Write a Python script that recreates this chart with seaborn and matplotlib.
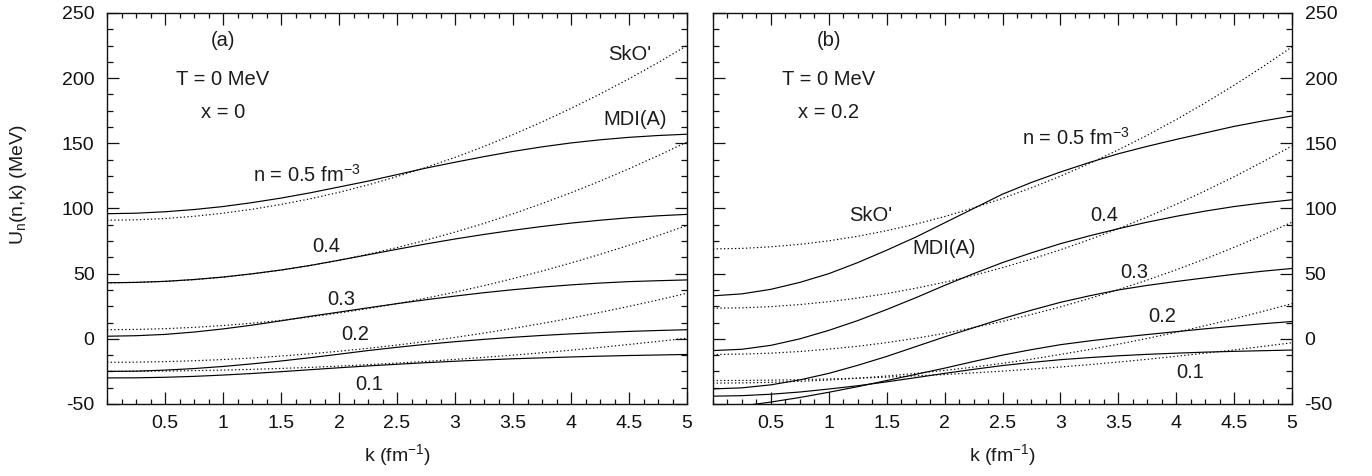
import numpy as np
import pandas as pd
import matplotlib
matplotlib.use("Agg")
import matplotlib.pyplot as plt
from matplotlib.ticker import MultipleLocator, FixedLocator, FixedFormatter
import seaborn as sns

# momentum grid (fm^-1)
K = [0.0, 0.25, 0.5, 0.75, 1.0, 1.25, 1.5, 1.75, 2.0, 2.25, 2.5,
     2.75, 3.0, 3.25, 3.5, 3.75, 4.0, 4.25, 4.5, 4.75, 5.0]
DENSITIES = ["0.1", "0.2", "0.3", "0.4", "0.5"]

# ---- panel (a): x = 0, neutron single-particle potential U_n (MeV) ----
mdi_a_01 = [-30, -29.9, -29.5, -28.8, -27.8, -26.6, -25.2, -23.7, -22.2, -20.8, -19.5,
            -18.3, -17.2, -16.2, -15.3, -14.6, -13.9, -13.3, -12.8, -12.4, -12.0]
mdi_a_02 = [-25, -24.8, -24.0, -22.8, -21.2, -19.2, -17.0, -14.5, -11.8, -9.0, -6.5,
            -4.2, -2.2, -0.4, 1.2, 2.6, 3.8, 4.8, 5.7, 6.4, 7.0]
mdi_a_03 = [2.0, 2.4, 3.4, 5.2, 7.6, 10.5, 13.8, 17.3, 20.5, 23.8, 27.0,
            30.0, 32.8, 35.4, 37.7, 39.7, 41.4, 42.8, 43.9, 44.6, 45.2]
mdi_a_04 = [43.0, 43.3, 44.1, 45.5, 47.4, 49.9, 52.8, 56.3, 60.3, 64.5, 68.7,
            72.8, 76.6, 80.1, 83.3, 86.2, 88.8, 91.0, 92.9, 94.4, 95.5]
mdi_a_05 = [96.0, 96.4, 97.5, 99.2, 101.5, 104.5, 108.0, 112.0, 116.5, 121.0, 126.0,
            131.0, 135.5, 139.8, 143.8, 147.3, 150.3, 152.7, 154.6, 156.0, 157.0]

sko_a_01 = [-25.0, -24.9, -24.7, -24.4, -24.0, -23.4, -22.7, -21.9, -20.9, -19.8, -18.6,
            -17.3, -15.8, -14.2, -12.5, -10.7, -8.7, -6.6, -4.3, -2.0, 0.5]
sko_a_02 = [-18.0, -17.9, -17.5, -16.8, -15.9, -14.7, -13.2, -11.5, -9.5, -7.3, -4.8,
            -2.0, 1.1, 4.4, 8.0, 11.8, 15.9, 20.3, 24.9, 29.8, 35.0]
sko_a_03 = [7.0, 7.2, 7.8, 8.8, 10.2, 12.0, 14.2, 16.8, 19.8, 23.2, 27.0,
            31.2, 35.8, 40.8, 46.2, 52.0, 58.2, 64.8, 71.8, 79.2, 87.0]
sko_a_04 = [43.0, 43.3, 44.1, 45.4, 47.3, 49.8, 52.7, 56.2, 60.3, 64.9, 70.0,
            75.7, 81.9, 88.6, 95.9, 103.8, 112.1, 121.0, 130.5, 140.5, 151.0]
sko_a_05 = [91.0, 91.3, 92.3, 94.0, 96.4, 99.4, 103.1, 107.4, 112.4, 118.1, 124.5,
            131.5, 139.2, 147.6, 156.7, 166.4, 176.8, 187.8, 199.5, 211.9, 225.0]

# ---- panel (b): x = 0.2 ----
mdi_b_01 = [-44.0, -43.6, -42.5, -40.8, -38.5, -36.0, -33.0, -29.8, -26.5, -23.4, -20.5,
            -18.1, -16.0, -14.4, -13.0, -11.9, -11.0, -10.2, -9.6, -9.1, -8.6]
mdi_b_02 = [-54.0, -51.5, -48.5, -45.0, -41.0, -36.7, -32.0, -27.3, -22.5, -17.4, -12.5,
            -8.3, -4.5, -1.6, 1.0, 3.3, 5.5, 7.7, 9.7, 11.6, 13.3]
mdi_b_03 = [-38.4, -37.6, -35.3, -31.5, -26.5, -20.3, -13.5, -6.0, 1.5, 8.5, 15.5,
            22.0, 28.0, 33.0, 37.5, 41.0, 44.0, 46.8, 49.5, 51.9, 54.0]
mdi_b_04 = [-9.0, -8.0, -5.0, 0.0, 6.5, 14.0, 22.5, 31.5, 41.0, 50.0, 58.5,
            66.0, 73.0, 79.0, 84.5, 89.5, 94.0, 98.0, 101.5, 104.3, 106.7]
mdi_b_05 = [33.0, 34.5, 38.0, 43.3, 50.0, 58.5, 68.0, 78.0, 89.0, 100.0, 111.0,
            120.0, 128.0, 135.3, 142.0, 147.7, 153.0, 158.0, 163.0, 167.2, 171.0]

sko_b_01 = [-32.0, -31.9, -31.7, -31.3, -30.8, -30.2, -29.4, -28.4, -27.4, -26.1, -24.8,
            -23.2, -21.6, -19.8, -17.8, -15.7, -13.4, -11.0, -8.5, -5.8, -3.0]
sko_b_02 = [-34.0, -33.8, -33.4, -32.6, -31.6, -30.2, -28.5, -26.5, -24.2, -21.7, -18.8,
            -15.6, -12.0, -8.2, -4.1, 0.3, 5.0, 10.1, 15.4, 21.1, 27.0]
sko_b_03 = [-12.0, -11.7, -11.0, -9.7, -7.9, -5.7, -2.9, 0.4, 4.2, 8.6, 13.4,
            18.7, 24.5, 30.9, 37.7, 45.1, 53.0, 61.3, 70.2, 79.6, 89.5]
sko_b_04 = [23.5, 23.8, 24.7, 26.3, 28.5, 31.3, 34.7, 38.8, 43.4, 48.7, 54.6,
            61.2, 68.3, 76.1, 84.5, 93.5, 103.2, 113.5, 124.4, 135.9, 148.0]
sko_b_05 = [69.0, 69.4, 70.6, 72.5, 75.2, 78.7, 83.0, 88.0, 93.8, 100.4, 107.8,
            115.9, 124.8, 134.5, 145.0, 156.2, 168.2, 181.0, 194.6, 208.9, 224.0]

XTICKS = [0.5, 1, 1.5, 2, 2.5, 3, 3.5, 4, 4.5, 5]
XTICK_LABELS = ["0.5", "1", "1.5", "2", "2.5", "3", "3.5", "4", "4.5", "5"]
YTICKS = [-50, 0, 50, 100, 150, 200, 250]
YTICK_LABELS = ["-50", "0", "50", "100", "150", "200", "250"]

series = {
    "a": {"MDI(A)": [mdi_a_01, mdi_a_02, mdi_a_03, mdi_a_04, mdi_a_05],
          "SkO'": [sko_a_01, sko_a_02, sko_a_03, sko_a_04, sko_a_05]},
    "b": {"MDI(A)": [mdi_b_01, mdi_b_02, mdi_b_03, mdi_b_04, mdi_b_05],
          "SkO'": [sko_b_01, sko_b_02, sko_b_03, sko_b_04, sko_b_05]},
}
rows = []
for panel, models in series.items():
    for model, curves in models.items():
        for n, vals in zip(DENSITIES, curves):
            for k, u in zip(K, vals):
                rows.append({"panel": panel, "model": model, "n": n, "k": k, "U": u})
df = pd.DataFrame(rows)

sns.set_theme(style="ticks")
TXT = "#1c1c1c"
plt.rcParams.update({
    "font.family": ["Liberation Sans", "DejaVu Sans"],
    "mathtext.fontset": "custom",
    "mathtext.rm": "Liberation Sans",
    "mathtext.it": "Liberation Sans:italic",
    "mathtext.bf": "Liberation Sans:bold",
    "text.color": TXT,
    "axes.labelcolor": TXT,
    "xtick.color": "#111111",
    "ytick.color": "#111111",
    "axes.edgecolor": "#111111",
})

fig = plt.figure(figsize=(13.72, 4.76), dpi=100)
W, H = 1372.0, 476.0
axA = fig.add_axes([107 / W, (H - 404) / H, 580 / W, 391 / H])
axB = fig.add_axes([713 / W, (H - 404) / H, 579 / W, 391 / H])

styles = {"MDI(A)": "-", "SkO'": (0, (1.1, 2.0))}
TICK_FS = 14
for ax, panel in ((axA, "a"), (axB, "b")):
    sub = df[df["panel"] == panel]
    for (model, n), grp in sub.groupby(["model", "n"]):
        sns.lineplot(data=grp, x="k", y="U", ax=ax, color="black",
                     linewidth=0.85, linestyle=styles[model],
                     estimator=None, sort=False, legend=False)
    ax.set_xlim(0, 5)
    ax.set_ylim(-50, 250)
    ax.xaxis.set_major_locator(FixedLocator(XTICKS))
    ax.xaxis.set_major_formatter(FixedFormatter(XTICK_LABELS))
    ax.xaxis.set_minor_locator(MultipleLocator(0.125))
    ax.yaxis.set_major_locator(FixedLocator(YTICKS))
    ax.yaxis.set_major_formatter(FixedFormatter(YTICK_LABELS))
    ax.yaxis.set_minor_locator(MultipleLocator(12.5))
    ax.tick_params(which="both", direction="in", top=True, bottom=True,
                   left=True, right=True, labelsize=TICK_FS, width=0.9)
    ax.tick_params(axis="x", which="major", length=8.5, pad=8)
    ax.tick_params(axis="x", which="minor", length=3.8)
    ax.tick_params(axis="y", which="major", length=8.5, pad=9)
    ax.tick_params(axis="y", which="minor", length=4.2)
    for sp in ax.spines.values():
        sp.set_linewidth(1.0)
    ax.set_xlabel("k (fm$^{-1}$)", fontsize=14, labelpad=7)
    ax.set_ylabel("")

axA.set_ylabel("U$_\\mathregular{n}$(n,k) (MeV)", fontsize=14)
axA.yaxis.set_label_coords(-0.134, 0.56)
axB.tick_params(axis="y", which="both", labelleft=False, labelright=True)

fs = 14.5
kw = dict(fontsize=fs, ha="center", va="center", color=TXT)
# panel (a) annotations
axA.text(1.0, 229, "(a)", **kw)
axA.text(1.0, 199, "T = 0 MeV", **kw)
axA.text(1.0, 174, "x = 0", **kw)
axA.text(4.51, 218, "SkO'", **kw)
axA.text(4.55, 168, "MDI(A)", **kw)
axA.text(1.72, 126, "n = 0.5 fm$^{-3}$", **kw)
axA.text(1.89, 71, "0.4", **kw)
axA.text(2.02, 30, "0.3", **kw)
axA.text(2.14, 3, "0.2", **kw)
axA.text(2.26, -35, "0.1", **kw)
# panel (b) annotations
axB.text(1.0, 229, "(b)", **kw)
axB.text(1.0, 199, "T = 0 MeV", **kw)
axB.text(1.0, 174, "x = 0.2", **kw)
axB.text(3.13, 154, "n = 0.5 fm$^{-3}$", **kw)
axB.text(1.36, 95, "SkO'", **kw)
axB.text(2.0, 69, "MDI(A)", **kw)
axB.text(3.38, 95, "0.4", **kw)
axB.text(3.64, 51, "0.3", **kw)
axB.text(3.88, 17, "0.2", **kw)
axB.text(4.12, -26, "0.1", **kw)

fig.savefig("out.png", dpi=100)
